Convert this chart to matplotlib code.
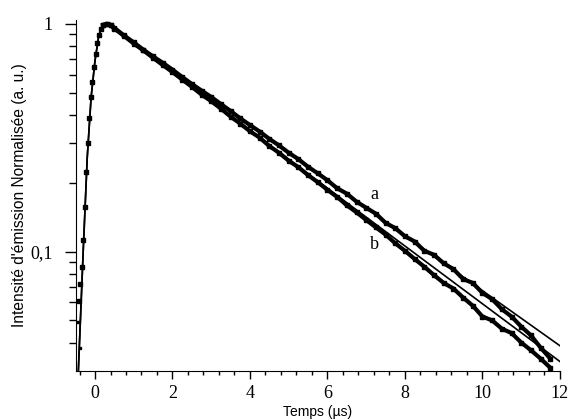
import matplotlib.pyplot as plt
from matplotlib.ticker import FixedLocator, FixedFormatter, MultipleLocator, NullFormatter

# ---- data ----
# rising edge (shared by both samples), separate points
rise_x = [-0.42, -0.39, -0.34, -0.31, -0.26, -0.23, -0.18, -0.16, -0.10, -0.08,
          -0.03, 0.03, 0.05, 0.10, 0.16]
rise_y = [0.061, 0.072, 0.086, 0.113, 0.157, 0.224, 0.301, 0.387, 0.478, 0.557,
          0.648, 0.738, 0.826, 0.895, 0.951]

# extra stray points near the left edge
stray_x = [-0.49, -0.45, -0.39]
stray_y = [0.049, 0.049, 0.038]

# top of the peak and decay (dense points)
decay_x = [0.21, 0.31, 0.40, 0.5, 0.75, 1.0, 1.25, 1.5, 1.75, 2.0, 2.25, 2.5, 2.75, 3.0, 3.25,
           3.5, 3.75, 4.0, 4.25, 4.5, 4.75, 5.0, 5.25, 5.5, 5.75, 6.0, 6.25,
           6.5, 6.75, 7.0, 7.25, 7.5, 7.75, 8.0, 8.25, 8.5, 8.75, 9.0, 9.25,
           9.5, 9.75, 10.0, 10.25, 10.5, 10.75, 11.0, 11.25, 11.5, 11.75]
decay_a = [0.99, 1.0, 0.99, 0.96, 0.89, 0.83, 0.77, 0.72, 0.675, 0.63, 0.585, 0.545, 0.51, 0.478, 0.445,
           0.415, 0.385, 0.36, 0.337, 0.313, 0.293, 0.272, 0.255, 0.236, 0.221, 0.206, 0.19,
           0.18, 0.166, 0.156, 0.147, 0.134, 0.127, 0.117, 0.111, 0.101, 0.097, 0.089, 0.084,
           0.076, 0.073, 0.066, 0.062, 0.056, 0.052, 0.047, 0.043, 0.038, 0.034]
decay_b = [0.99, 1.0, 0.99, 0.955, 0.885, 0.82, 0.765, 0.71, 0.66, 0.615, 0.57, 0.53, 0.49, 0.458, 0.425,
           0.392, 0.365, 0.338, 0.317, 0.291, 0.272, 0.251, 0.235, 0.217, 0.202, 0.187, 0.174,
           0.160, 0.149, 0.138, 0.128, 0.119, 0.109, 0.101, 0.093, 0.086, 0.079, 0.073, 0.069,
           0.063, 0.058, 0.052, 0.050, 0.046, 0.044, 0.040, 0.037, 0.034, 0.031]

# fitted curves (rise + mono-exponential decay)
fit_x = [-0.43, -0.3, -0.2, -0.1, 0.0, 0.1, 0.2, 0.31, 12.0]
fit_a = [0.03, 0.105, 0.26, 0.478, 0.69, 0.895, 0.985, 1.0, 0.0387]
fit_b = [0.03, 0.105, 0.26, 0.478, 0.69, 0.895, 0.985, 1.0, 0.033]

plt.rcParams['font.family'] = ['Liberation Sans', 'DejaVu Sans']
serif = ['Liberation Serif', 'DejaVu Serif']

fig = plt.figure(figsize=(5.69, 4.19), dpi=100)
ax = fig.add_axes([0.1336, 0.1146, 0.8505, 0.8375])

# measured points
ax.plot(rise_x, rise_y, 's', color='black', ms=3.5)
for dy in (decay_a, decay_b):
    ax.plot(decay_x, dy, color='black', lw=3, marker='s', ms=3.5)
ax.plot(stray_x, stray_y, 's', color='black', ms=2)

# fits
ax.plot(fit_x, fit_a, color='black', lw=1.2)
ax.plot(fit_x, fit_b, color='black', lw=1.2)

ax.set_yscale('log')
ax.set_xlim(-0.49, 12)
ax.set_ylim(0.030, 1.04)

ax.spines['top'].set_visible(False)
ax.spines['right'].set_visible(False)

ax.xaxis.set_major_locator(MultipleLocator(2))
ax.xaxis.set_minor_locator(MultipleLocator(0.4))
ax.yaxis.set_major_locator(FixedLocator([0.1, 1]))
ax.yaxis.set_major_formatter(FixedFormatter(['0,1', '1']))
ax.yaxis.set_minor_locator(FixedLocator([0.04, 0.05, 0.06, 0.07, 0.08, 0.09,
                                         0.2, 0.3, 0.4, 0.5, 0.6, 0.7, 0.8, 0.9]))
ax.yaxis.set_minor_formatter(NullFormatter())

ax.tick_params(axis='y', which='major', length=8, width=1, pad=9)
ax.tick_params(axis='y', which='minor', length=5, width=1)
ax.tick_params(axis='x', which='major', length=6, width=1, pad=4)
ax.tick_params(axis='x', which='minor', length=3, width=1)
for lab in ax.get_xticklabels() + ax.get_yticklabels():
    lab.set_family(serif)
    lab.set_fontsize(13)

ax.set_xlabel('Temps (µs)', fontsize=10, labelpad=2)
ax.set_ylabel("Intensité d'émission Normalisée (a. u.)", fontsize=11.2)
ax.yaxis.set_label_coords(-0.101, 0.5)

ax.text(7.2, 0.178, 'a', family=serif, fontsize=13, ha='center', va='center')
ax.text(7.2, 0.108, 'b', family=serif, fontsize=13, ha='center', va='center')

fig.savefig('out.png', dpi=100)
